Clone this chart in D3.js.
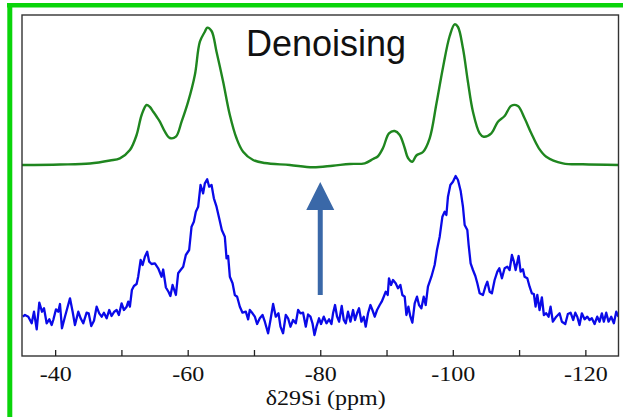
<!DOCTYPE html>
<html>
<head>
<meta charset="utf-8">
<script src="https://cdn.jsdelivr.net/npm/d3@7"></script>
<style>
  html, body { margin: 0; padding: 0; background: #fff; }
  svg { display: block; }
</style>
</head>
<body>
<svg id="chart" width="623" height="417"></svg>
<script>
// 29Si NMR spectra: denoised (top) and raw (bottom), chemical shift in ppm, intensity in a.u.
const shiftDomain = [-35, -125];
const tickValuesPpm = [-40, -50, -60, -70, -80, -90, -100, -110, -120];
const labelledTicks = [-40, -60, -80, -100, -120];
const axisTitle = "\u03b429Si (ppm)";
const panelTitle = "Denoising";
const arrowShift = -80;

// denoised spectrum [ppm, intensity]
const denoised = [
  [-35.0, 0], [-40.73, 0.5], [-45.25, 1.5], [-48.27, 4.5], [-49.77, 6.7],
  [-51.28, 15], [-52.29, 30], [-53.05, 50], [-53.8, 60], [-54.3, 58],
  [-54.8, 53.3], [-55.35, 48], [-55.8, 43.3], [-56.56, 33.3], [-57.31, 27],
  [-58.22, 28.3], [-59.08, 43.3], [-60.07, 63.3], [-61.08, 90], [-61.84, 123.3],
  [-62.59, 133.3], [-62.94, 137.3], [-63.6, 134], [-64.35, 113.3], [-65.35, 83.3],
  [-66.36, 50], [-67.37, 26.7], [-68.36, 13.3], [-69.87, 5], [-71.63, 2],
  [-75.4, 0], [-78.87, -2.3], [-81.89, -0.7], [-84.45, 1], [-86.71, 1.7],
  [-87.96, 6], [-88.67, 8.5], [-89.47, 17], [-90.37, 31.7], [-91.23, 34],
  [-91.99, 30], [-92.74, 17], [-93.24, 7], [-93.9, 3.3], [-94.5, 9.5],
  [-95.5, 13], [-96.51, 26.7], [-97.52, 61], [-98.52, 97.5], [-99.53, 129],
  [-100.28, 140.7], [-100.78, 138], [-101.53, 116.7], [-102.28, 83.3], [-103.04, 53.3],
  [-104.05, 31.7], [-104.65, 28.3], [-105.81, 31.7], [-106.81, 43.3], [-107.82, 49],
  [-108.83, 59.3], [-109.82, 59], [-110.83, 46.7], [-111.84, 31.7], [-112.99, 16.7],
  [-114.1, 8.3], [-116.61, 1.7], [-119.62, 0.7], [-125.0, 0]
];

// raw spectrum [ppm, intensity]
const raw = [
  [-35.11, 1.3], [-35.45, 3], [-35.95, 1.3], [-36.46, -5.3], [-36.81, 6.3],
  [-37.22, -11.3], [-37.61, 15.3], [-38.02, 6.3], [-38.32, 9.7], [-38.72, -5.3],
  [-39.12, -1.3], [-39.48, -7], [-39.72, -2], [-40.13, 8.7], [-40.47, 6.3],
  [-40.73, 14], [-41.03, -10.3], [-41.48, 1.3], [-41.83, 9.7], [-42.24, 19.7],
  [-42.64, 6.3], [-42.99, -7], [-43.49, 6.3], [-43.85, -0.3], [-44.24, -5.3],
  [-44.75, 5.3], [-45.06, 4.7], [-45.45, -8], [-45.86, -2.7], [-46.26, 11.3],
  [-46.65, 4.7], [-47.02, 1.3], [-47.36, 5.3], [-47.77, -0.3], [-48.16, 8],
  [-48.52, 2], [-48.92, 6.3], [-49.28, 8], [-49.62, 3], [-50.03, 14.7],
  [-50.38, 8], [-50.79, 11.3], [-51.03, 16.3], [-51.28, 11.3], [-51.58, 28],
  [-51.89, 32], [-52.29, 34], [-52.53, 41.3], [-52.9, 58], [-53.2, 53],
  [-53.54, 61.3], [-53.89, 66.3], [-54.19, 56.3], [-54.55, 54], [-55.05, 54.7],
  [-55.55, 49.7], [-56.06, 41.3], [-56.3, 48.5], [-56.71, 30.5], [-57.12, 26],
  [-57.39, 22], [-57.72, 33], [-58.22, 23], [-58.56, 44.7], [-58.93, 48],
  [-59.32, 51.3], [-59.72, 63], [-60.22, 68], [-60.58, 91.3], [-60.93, 96.3],
  [-61.23, 106.3], [-61.58, 111.3], [-61.94, 133], [-62.33, 124.7], [-62.59, 134.7],
  [-62.94, 138.7], [-63.24, 131.3], [-63.6, 133], [-63.95, 119.7], [-64.35, 111.3],
  [-64.75, 99.7], [-65.15, 88], [-65.6, 81.3], [-65.86, 59.7], [-66.1, 62],
  [-66.36, 41.3], [-66.77, 34.7], [-67.11, 23], [-67.46, 21.3], [-67.87, 11.3],
  [-68.27, 5.3], [-68.77, 6.3], [-69.12, -1.3], [-69.37, 8], [-69.78, 4.7],
  [-70.13, 1.3], [-70.47, -6], [-70.88, -0.3], [-71.29, 3], [-71.64, -3.7],
  [-72.13, -15.3], [-72.49, -2], [-72.89, 14], [-73.29, 1.3], [-73.7, 4.7],
  [-74.0, -8.7], [-74.39, -15.3], [-74.8, 3], [-75.15, -0.3], [-75.51, -8.7],
  [-75.9, -2], [-76.31, -5.3], [-76.66, 8], [-77.02, 4.7], [-77.41, 5.3],
  [-77.82, -8.7], [-78.16, 3.5], [-78.52, 1.3], [-78.83, -5.3], [-79.13, -17],
  [-79.43, -8.7], [-79.82, -0.3], [-80.12, -6], [-80.53, 1.3], [-80.94, -5.3],
  [-81.33, -1.3], [-81.69, -6], [-81.93, 4.7], [-82.23, 13], [-82.54, 1.3],
  [-82.84, -3.7], [-83.24, 12], [-83.55, -2], [-83.85, -5.3], [-84.19, 6.3],
  [-84.56, -3.7], [-84.95, 8], [-85.25, -2], [-85.55, 4.7], [-85.85, 9.7],
  [-86.21, -3.7], [-86.56, 1.3], [-86.86, -8.7], [-87.21, 4.7], [-87.57, 13],
  [-87.87, 8], [-88.22, 1.3], [-88.57, 8], [-88.97, 13], [-89.27, 16.3],
  [-89.58, 21.3], [-89.88, 26.3], [-90.18, 23], [-90.37, 39.7], [-90.68, 33],
  [-90.98, 38], [-91.38, 34.7], [-91.73, 29.7], [-92.09, 33], [-92.39, 23],
  [-92.74, 21.3], [-93.0, 3], [-93.3, 11.3], [-93.6, 1.3], [-93.9, -4.7],
  [-94.25, 14.7], [-94.6, 21.3], [-94.9, 13], [-95.26, 9.7], [-95.61, 21.3],
  [-95.91, 13], [-96.25, 31.3], [-96.77, 41.3], [-97.26, 53], [-97.61, 68],
  [-98.02, 81.3], [-98.43, 101.3], [-98.77, 106.3], [-99.03, 103], [-99.27, 121.3],
  [-99.63, 133], [-100.02, 136.3], [-100.43, 142], [-100.78, 138], [-101.18, 127.3],
  [-101.53, 111.3], [-101.79, 93], [-102.19, 88], [-102.39, 73], [-102.69, 54.7],
  [-103.04, 48], [-103.4, 42], [-103.7, 34.7], [-104.05, 24.7], [-104.55, 23],
  [-104.91, 31.3], [-105.21, 36.3], [-105.56, 26.3], [-105.9, 24.7], [-106.31, 38],
  [-106.72, 46.3], [-107.02, 49.7], [-107.41, 39.7], [-107.82, 49.7], [-108.22, 51.3],
  [-108.57, 48], [-108.92, 63], [-109.22, 56.3], [-109.48, 48], [-109.93, 62],
  [-110.23, 46.3], [-110.58, 48.7], [-110.83, 41.3], [-111.24, 39.7], [-111.59, 31.3],
  [-111.93, 24.7], [-112.23, 24], [-112.49, 11.3], [-112.75, 23], [-113.09, 8],
  [-113.44, 20.7], [-113.74, 3], [-114.1, 4.7], [-114.45, 1.3], [-114.75, 11.3],
  [-115.1, -3.7], [-115.61, 1.3], [-116.11, 4.7], [-116.46, -3.7], [-116.97, -6],
  [-117.36, 4], [-117.77, 5.3], [-118.17, -2], [-118.48, 5.3], [-118.78, 1.3],
  [-119.12, -7], [-119.47, 4.7], [-119.88, -1.3], [-120.29, 1.3], [-120.63, -2],
  [-120.98, -0.3], [-121.39, -6], [-121.79, 1.3], [-122.14, -3.7], [-122.49, 4.7],
  [-122.79, -3.7], [-123.15, 5.3], [-123.5, -3.7], [-123.9, 1.3], [-124.3, -5.3],
  [-124.66, 6.3], [-125.0, 1.3]
];

// ---- layout ----
const W = 623, H = 417;
const plot = { left: 22, right: 618.5, top: 15, bottom: 356 };
const topBaseline = 165;     // baseline of the denoised trace
const bottomBaseline = 318;  // baseline of the raw trace
const intensityMax = 150;    // a.u. span drawn per trace

const svg = d3.select("#chart");

const x = d3.scaleLinear().domain(shiftDomain).range([plot.left, plot.right]);
const yTop = d3.scaleLinear().domain([0, intensityMax]).range([topBaseline, topBaseline - intensityMax]);
const yBottom = d3.scaleLinear().domain([0, intensityMax]).range([bottomBaseline, bottomBaseline - intensityMax]);

// outer green frame (top and left edges)
const frameGreen = "#0ad40a";
svg.append("line").attr("x1", 7).attr("x2", W).attr("y1", 5.2).attr("y2", 5.2)
  .attr("stroke", frameGreen).attr("stroke-width", 4.6);
svg.append("line").attr("x1", 9.8).attr("x2", 9.8).attr("y1", 3).attr("y2", H)
  .attr("stroke", frameGreen).attr("stroke-width", 5);

svg.append("clipPath").attr("id", "plotClip").append("rect")
  .attr("x", plot.left).attr("y", plot.top)
  .attr("width", plot.right - plot.left).attr("height", plot.bottom - plot.top);

const traces = svg.append("g").attr("clip-path", "url(#plotClip)");

const lineTop = d3.line().x(d => x(d[0])).y(d => yTop(d[1])).curve(d3.curveCatmullRom.alpha(0.5));
const lineBottom = d3.line().x(d => x(d[0])).y(d => yBottom(d[1]));

traces.append("path").datum(denoised)
  .attr("d", lineTop).attr("fill", "none")
  .attr("stroke", "#1f861f").attr("stroke-width", 2.4).attr("stroke-linejoin", "round");

traces.append("path").datum(raw)
  .attr("d", lineBottom).attr("fill", "none")
  .attr("stroke", "#0a0ae8").attr("stroke-width", 2.3).attr("stroke-linejoin", "round");

// arrow from the raw trace up to the denoised one
const ax = x(arrowShift);
const arrowColor = "#3a68a8";
svg.append("line").attr("x1", ax).attr("x2", ax).attr("y1", 295).attr("y2", 208)
  .attr("stroke", arrowColor).attr("stroke-width", 5);
svg.append("path")
  .attr("d", `M${ax},182 L${ax + 14},210 L${ax - 14},210 Z`)
  .attr("fill", arrowColor);

// plot frame
svg.append("rect")
  .attr("x", plot.left).attr("y", plot.top)
  .attr("width", plot.right - plot.left).attr("height", plot.bottom - plot.top)
  .attr("fill", "none").attr("stroke", "#333").attr("stroke-width", 1.4);

// bottom axis with inward ticks
const axis = d3.axisBottom(x)
  .tickValues(tickValuesPpm)
  .tickSizeInner(-6).tickSizeOuter(0)
  .tickFormat(d => labelledTicks.includes(d) ? String(d) : "");

const gAxis = svg.append("g").attr("transform", `translate(0,${plot.bottom})`).call(axis);
gAxis.attr("font-family", null);
gAxis.select(".domain").remove();
gAxis.selectAll(".tick line").attr("stroke", "#222").attr("stroke-width", 1.3);
gAxis.selectAll(".tick text")
  .attr("y", 25.3).attr("dy", 0)
  .attr("transform", "scale(1.2,1)")
  .attr("fill", "#111")
  .style("font-family", "'Liberation Serif', 'Times New Roman', serif")
  .style("font-size", "20px");

// axis title
svg.append("text")
  .attr("transform", `translate(${(plot.left + plot.right) / 2 + 5.5},404.7) scale(1.2,1)`)
  .attr("text-anchor", "middle")
  .attr("fill", "#111")
  .style("font-family", "'Liberation Serif', 'Times New Roman', serif")
  .style("font-size", "20px")
  .text(axisTitle);

// panel title
svg.append("text")
  .attr("x", 246).attr("y", 56)
  .attr("fill", "#111")
  .style("font-family", "'Liberation Sans', Arial, sans-serif")
  .style("font-size", "36px")
  .text(panelTitle);
</script>
</body>
</html>
